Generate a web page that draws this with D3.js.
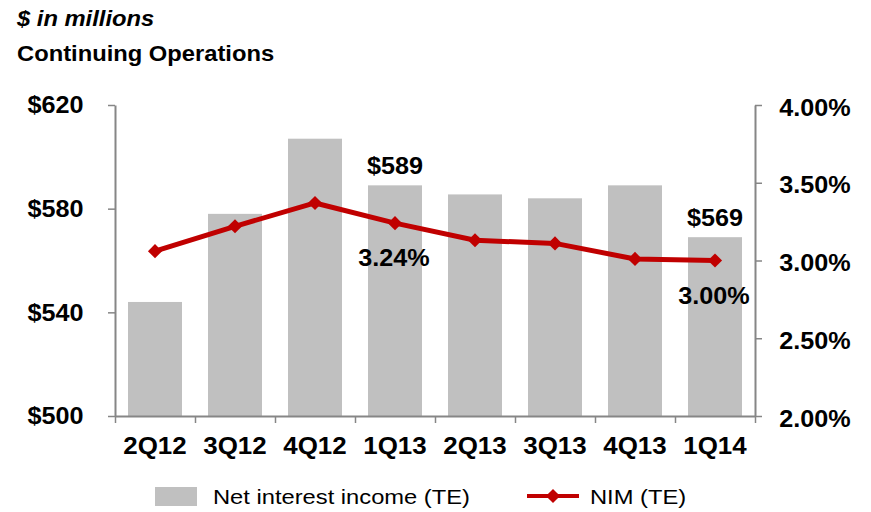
<!DOCTYPE html>
<html>
<head>
<meta charset="utf-8">
<script src="https://cdn.jsdelivr.net/npm/d3@7"></script>
<style>
  body { margin: 0; background: #fff; }
  svg text { font-family: "Liberation Sans", Arial, sans-serif; fill: #000; }
</style>
</head>
<body>
<div class="chart"></div>
<script>
// data
var quarters = ["2Q12", "3Q12", "4Q12", "1Q13", "2Q13", "3Q13", "4Q13", "1Q14"];
var netInterestIncome = [544, 578, 607, 589, 585.5, 584, 589, 569];
var nim = [3.06, 3.22, 3.37, 3.24, 3.13, 3.11, 3.01, 3.00];
var leftTicks = [500, 540, 580, 620];
var rightTicks = [2.0, 2.5, 3.0, 3.5, 4.0];
var barLabels = [{ i: 3, text: "$589" }, { i: 7, text: "$569" }];
var nimLabels = [{ i: 3, text: "3.24%" }, { i: 7, text: "3.00%" }];

var svgWidth = 871;
var svgHeight = 512;
var stretch = 1.05; // reference text is drawn a bit wide
var labelSize = "24px";

var margin = { top: 105, right: 116, bottom: 96, left: 115 };
var chartWidth = svgWidth - margin.left - margin.right;
var chartHeight = svgHeight - margin.top - margin.bottom;

var svg = d3.select(".chart")
  .append("svg")
  .attr("width", svgWidth)
  .attr("height", svgHeight);

// headings
svg.append("text")
  .attr("transform", "translate(17,26) scale(1.08,1)")
  .style("font-size", "22px")
  .style("font-weight", "bold")
  .style("font-style", "italic")
  .text("$ in millions");

svg.append("text")
  .attr("transform", "translate(17,61) scale(1.08,1)")
  .style("font-size", "22px")
  .style("font-weight", "bold")
  .text("Continuing Operations");

var chartGroup = svg.append("g")
  .attr("transform", `translate(${margin.left}, ${margin.top})`);

// scales
var xBandScale = d3.scaleBand()
  .domain(quarters)
  .range([0, chartWidth])
  .paddingInner(0.325)
  .paddingOuter(0.1625);

var xEdgeScale = d3.scaleLinear()
  .domain([0, quarters.length])
  .range([0, chartWidth]);

var yLeftScale = d3.scaleLinear()
  .domain([500, 620])
  .range([chartHeight, 0]);

var yRightScale = d3.scaleLinear()
  .domain([2, 4])
  .range([chartHeight, 0]);

// bars
chartGroup.selectAll("rect.bar")
  .data(netInterestIncome)
  .enter()
  .append("rect")
  .attr("class", "bar")
  .attr("x", (d, i) => xBandScale(quarters[i]))
  .attr("y", d => yLeftScale(d))
  .attr("width", xBandScale.bandwidth())
  .attr("height", d => chartHeight - yLeftScale(d))
  .attr("fill", "#c0c0c0");

// axes
function styleAxis(g) {
  g.select(".domain").attr("stroke", "#868686").attr("stroke-width", 2);
  g.selectAll(".tick line").attr("stroke", "#868686").attr("stroke-width", 1.5);
  g.selectAll("text")
    .style("font-size", labelSize)
    .style("font-weight", "bold")
    .style("font-family", "'Liberation Sans', Arial, sans-serif")
    .attr("fill", "#000");
}

var leftAxis = d3.axisLeft(yLeftScale)
  .tickValues(leftTicks)
  .tickSize(7)
  .tickSizeOuter(0)
  .tickPadding(23)
  .tickFormat(d => "$" + d);

chartGroup.append("g")
  .call(leftAxis)
  .call(styleAxis)
  .selectAll("text")
  .attr("transform", "scale(" + stretch + ",1)");

var rightAxis = d3.axisRight(yRightScale)
  .tickValues(rightTicks)
  .tickSize(7)
  .tickSizeOuter(0)
  .tickPadding(16)
  .tickFormat(d => d3.format(".2f")(d) + "%");

chartGroup.append("g")
  .attr("transform", `translate(${chartWidth}, 0)`)
  .call(rightAxis)
  .call(styleAxis)
  .selectAll("text")
  .attr("dy", "0.42em")
  .attr("transform", "scale(" + stretch + ",1)");

var bottomAxis = d3.axisBottom(xEdgeScale)
  .ticks(quarters.length)
  .tickSize(7)
  .tickSizeOuter(0)
  .tickFormat("");

chartGroup.append("g")
  .attr("transform", `translate(0, ${chartHeight})`)
  .call(bottomAxis)
  .call(styleAxis);

// category labels
chartGroup.selectAll("text.cat")
  .data(quarters)
  .enter()
  .append("text")
  .attr("class", "cat")
  .attr("transform", d => `translate(${xBandScale(d) + xBandScale.bandwidth() / 2}, ${chartHeight + 38}) scale(1.08,1)`)
  .attr("text-anchor", "middle")
  .style("font-size", labelSize)
  .style("font-weight", "bold")
  .text(d => d);

// NIM line
var line = d3.line()
  .x((d, i) => xBandScale(quarters[i]) + xBandScale.bandwidth() / 2)
  .y(d => yRightScale(d));

chartGroup.append("path")
  .datum(nim)
  .attr("d", line)
  .attr("fill", "none")
  .attr("stroke", "#c00000")
  .attr("stroke-width", 5)
  .attr("stroke-linejoin", "round");

var diamond = d3.symbol().type(d3.symbolSquare).size(100);

chartGroup.selectAll("path.marker")
  .data(nim)
  .enter()
  .append("path")
  .attr("class", "marker")
  .attr("d", diamond)
  .attr("transform", (d, i) => `translate(${xBandScale(quarters[i]) + xBandScale.bandwidth() / 2}, ${yRightScale(d)}) rotate(45)`)
  .attr("fill", "#c00000");

// data labels
chartGroup.selectAll("text.barLabel")
  .data(barLabels)
  .enter()
  .append("text")
  .attr("class", "barLabel")
  .attr("transform", d => `translate(${xBandScale(quarters[d.i]) + xBandScale.bandwidth() / 2}, ${yLeftScale(netInterestIncome[d.i]) - 11}) scale(${stretch},1)`)
  .attr("text-anchor", "middle")
  .style("font-size", labelSize)
  .style("font-weight", "bold")
  .text(d => d.text);

chartGroup.selectAll("text.nimLabel")
  .data(nimLabels)
  .enter()
  .append("text")
  .attr("class", "nimLabel")
  .attr("transform", d => `translate(${xBandScale(quarters[d.i]) + xBandScale.bandwidth() / 2 - 1}, ${yRightScale(nim[d.i]) + 43}) scale(${stretch},1)`)
  .attr("text-anchor", "middle")
  .style("font-size", labelSize)
  .style("font-weight", "bold")
  .text(d => d.text);

// legend
var legend = svg.append("g");

legend.append("rect")
  .attr("x", 155)
  .attr("y", 487)
  .attr("width", 42)
  .attr("height", 19)
  .attr("fill", "#c0c0c0");

legend.append("text")
  .attr("transform", "translate(213,504) scale(1.13,1)")
  .style("font-size", "21px")
  .text("Net interest income (TE)");

legend.append("line")
  .attr("x1", 527)
  .attr("x2", 579)
  .attr("y1", 496)
  .attr("y2", 496)
  .attr("stroke", "#c00000")
  .attr("stroke-width", 4);

legend.append("path")
  .attr("d", diamond)
  .attr("transform", "translate(553,496) rotate(45)")
  .attr("fill", "#c00000");

legend.append("text")
  .attr("transform", "translate(590,504) scale(1.13,1)")
  .style("font-size", "21px")
  .text("NIM (TE)");
</script>
</body>
</html>
